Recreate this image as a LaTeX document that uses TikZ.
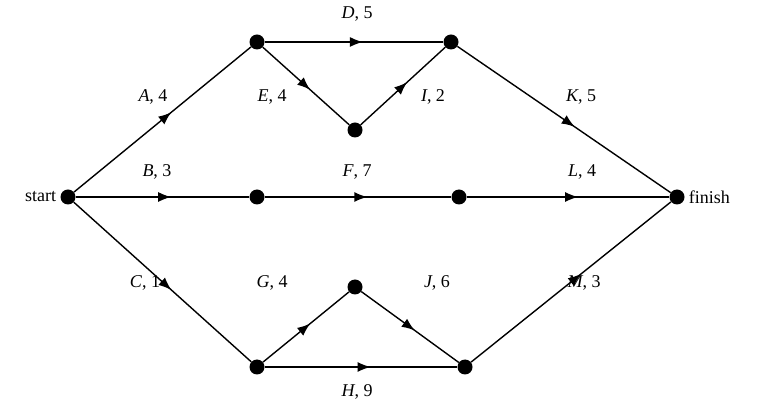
\documentclass[tikz,border=0pt]{standalone}
\usepackage{fontspec}
\setmainfont{Liberation Serif}
\usetikzlibrary{arrows.meta,decorations.markings}

\tikzset{
  dot/.style={circle, fill=black, inner sep=0pt, minimum size=15pt},
  act/.style={line width=1.4pt, postaction={decorate}, decoration={markings,
      mark=at position 0.55 with {\arrow{Latex[length=13pt,width=10pt]}}}},
  lab/.style={inner sep=1pt}
}

\begin{document}
\fontsize{18}{22}\selectfont
\begin{tikzpicture}[x=1pt, y=-1pt]
    \useasboundingbox (0,0) rectangle (763,411);

    % Events
    \node[dot] (s)  at (68,197)  {};
    \node[dot] (t1) at (257,42)  {};
    \node[dot] (t2) at (451,42)  {};
    \node[dot] (te) at (355,130) {};
    \node[dot] (m1) at (257,197) {};
    \node[dot] (m2) at (459,197) {};
    \node[dot] (b1) at (257,367) {};
    \node[dot] (bg) at (355,287) {};
    \node[dot] (b2) at (465,367) {};
    \node[dot] (f)  at (677,197) {};

    \node[lab, left=3pt]  (startlab)  at (s.west)  {start};
    \node[lab, right=3pt] (finishlab) at (f.east)  {finish};

    % Activities
    \draw[act] (s) -- (t1);
    \draw[act] (t1) -- (t2);
    \draw[act] (t1) -- (te);
    \draw[act] (te) -- (t2);
    \draw[act] (t2) -- (f);
    \draw[act] (s) -- (m1);
    \draw[act] (m1) -- (m2);
    \draw[act] (m2) -- (f);
    \draw[act] (s) -- (b1);
    \draw[act] (b1) -- (bg);
    \draw[act] (bg) -- (b2);
    \draw[act] (b1) -- (b2);
    \draw[act] (b2) -- (f);

    % Labels
    \node[lab] (la) at (153,97)  {\textit{A}, 4};
    \node[lab] (le) at (272,97)  {\textit{E}, 4};
    \node[lab] (ld) at (357,14)  {\textit{D}, 5};
    \node[lab] (li) at (433,97)  {\textit{I}, 2};
    \node[lab] (lk) at (581,97)  {\textit{K}, 5};
    \node[lab] (lb) at (157,172) {\textit{B}, 3};
    \node[lab] (lf) at (357,172) {\textit{F}, 7};
    \node[lab] (ll) at (582,172) {\textit{L}, 4};
    \node[lab] (lc) at (145,283) {\textit{C}, 1};
    \node[lab] (lg) at (272,283) {\textit{G}, 4};
    \node[lab] (lj) at (437,283) {\textit{J}, 6};
    \node[lab] (lh) at (357,392) {\textit{H}, 9};
    \node[lab] (lm) at (584,283) {\textit{M}, 3};
\end{tikzpicture}
\end{document}
